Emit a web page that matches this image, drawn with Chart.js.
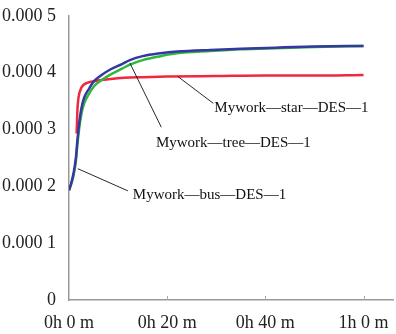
<!DOCTYPE html>
<html>
<head>
<meta charset="utf-8">
<script src="https://cdn.jsdelivr.net/npm/chart.js@4/dist/chart.umd.min.js"></script>
<style>
html,body{margin:0;padding:0;background:#fff;}
#wrap{width:396px;height:334px;position:relative;}
</style>
</head>
<body>
<div id="wrap"><canvas id="c" width="396" height="334"></canvas></div>
<script>
// time in minutes, values in units of 1e-4
const busTimes  = [0,0.5,0.9,1.4,1.7,2.05,2.5,3.05,4.1,5.1,6.5,8.5,10.8,12.4,15,18.6,22,28.8,35,42,50,60];
const busValues = [1.93,2.07,2.22,2.50,2.80,3.09,3.36,3.55,3.72,3.85,3.95,4.06,4.15,4.22,4.29,4.34,4.37,4.40,4.42,4.44,4.46,4.47];
const treeTimes  = [0,0.5,0.9,1.4,1.7,2.05,2.5,3.05,4.1,5.1,6.5,8.5,10.8,12.4,15,18.6,22,28.8,35,42,50,60];
const treeValues = [1.93,2.05,2.18,2.44,2.72,3.00,3.26,3.45,3.63,3.76,3.86,3.97,4.07,4.14,4.22,4.29,4.34,4.38,4.41,4.43,4.45,4.47];
const starTimes  = [1.55,1.62,1.7,1.85,2.05,2.35,2.7,3.2,3.7,4.5,5.8,8.5,11.2,15,20,30,40,50,60];
const starValues = [2.93,3.10,3.32,3.50,3.62,3.70,3.76,3.80,3.82,3.84,3.86,3.89,3.91,3.92,3.93,3.94,3.95,3.95,3.96];
const valueScale = 1e-4;
const seriesNames = ['Mywork—bus—DES—1','Mywork—tree—DES—1','Mywork—star—DES—1'];
const xTickLabels = {0:'0h 0 m',20:'0h 20 m',40:'0h 40 m',60:'1h 0 m'};
const yTickLabels = ['0','0.000 1','0.000 2','0.000 3','0.000 4','0.000 5'];

// annotation leader lines: [x1,y1,x2,y2] in data units (minutes, 1e-4), text anchor
const annotations = [
  {text: seriesNames[2], line:[22.2,3.93,29.4,3.46], at:[29.6,3.37]},
  {text: seriesNames[1], line:[12.4,4.17,18.8,3.04], at:[17.7,2.76]},
  {text: seriesNames[0], line:[1.8,2.31,12.0,1.92], at:[13.0,1.84]}
];

const toPts = (t,v) => t.map((x,i)=>({x:x, y:v[i]*valueScale}));

const annotPlugin = {
  id:'annot',
  afterDatasetsDraw(chart){
    const ctx = chart.ctx, xs = chart.scales.x, ys = chart.scales.y;
    ctx.save();
    ctx.strokeStyle = '#aaa'; ctx.lineWidth = 1;
    [20,40,60].forEach(v=>{
      const px = Math.round(xs.getPixelForValue(v))+0.5;
      ctx.beginPath(); ctx.moveTo(px, ys.bottom); ctx.lineTo(px, ys.bottom-4); ctx.stroke();
    });
    ctx.strokeStyle = '#111'; ctx.lineWidth = 0.9;
    ctx.fillStyle = '#111';
    ctx.font = '15px "Liberation Serif", "DejaVu Serif", serif';
    ctx.textBaseline = 'middle'; ctx.textAlign = 'left';
    annotations.forEach(a=>{
      ctx.beginPath();
      ctx.moveTo(xs.getPixelForValue(a.line[0]), ys.getPixelForValue(a.line[1]*valueScale));
      ctx.lineTo(xs.getPixelForValue(a.line[2]), ys.getPixelForValue(a.line[3]*valueScale));
      ctx.stroke();
      ctx.fillText(a.text, xs.getPixelForValue(a.at[0]), ys.getPixelForValue(a.at[1]*valueScale));
    });
    ctx.restore();
  }
};

const common = {fill:false, pointRadius:0, borderWidth:2.5, cubicInterpolationMode:'monotone'};

new Chart(document.getElementById('c'), {
  type:'line',
  data:{
    datasets:[
      Object.assign({label:seriesNames[0], data:toPts(busTimes,busValues), borderColor:'#3537a3'}, common),
      Object.assign({label:seriesNames[1], data:toPts(treeTimes,treeValues), borderColor:'#2fb83a'}, common),
      Object.assign({label:seriesNames[2], data:toPts(starTimes,starValues), borderColor:'#ee2a3c'}, common)
    ]
  },
  options:{
    responsive:false, animation:false, devicePixelRatio:1,
    layout:{padding:{left:0,right:3,top:14,bottom:0}},
    plugins:{legend:{display:false}, tooltip:{enabled:false}},
    scales:{
      x:{
        type:'linear', min:0, max:66,
        grid:{display:false},
        border:{display:true, color:'#999', width:1.5},
        afterFit(s){ s.height = 34; },
        ticks:{stepSize:20, includeBounds:false, padding:4, color:'#222', maxRotation:0, autoSkip:false,
          font:{family:'"Liberation Serif", serif', size:18},
          callback:(v)=> xTickLabels[v] !== undefined ? xTickLabels[v] : ''}
      },
      y:{
        min:0, max:0.0005,
        grid:{display:false},
        border:{display:true, color:'#999', width:1.5},
        afterFit(s){ s.width = 69; },
        ticks:{stepSize:0.0001, padding:5, color:'#222',
          font:{family:'"Liberation Serif", serif', size:18},
          callback:(v)=> yTickLabels[Math.round(v/0.0001)]}
      }
    }
  },
  plugins:[annotPlugin]
});
</script>
</body>
</html>
